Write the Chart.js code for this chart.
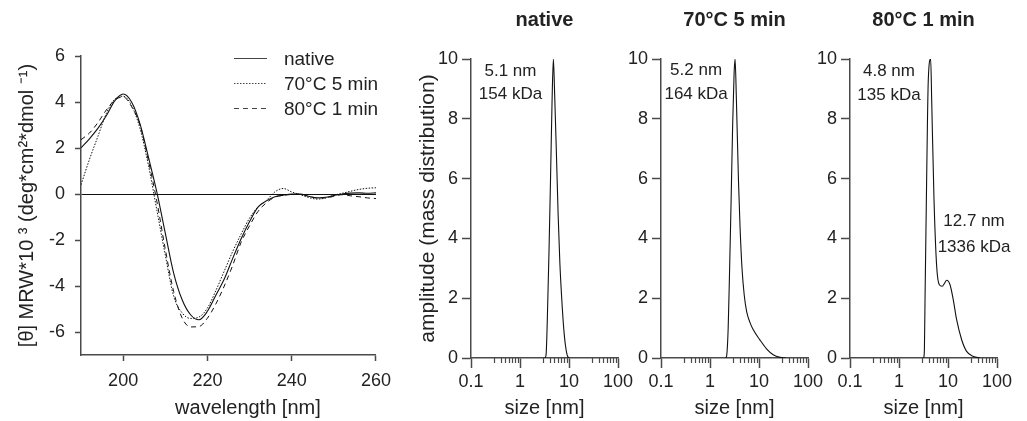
<!DOCTYPE html>
<html>
<head>
<meta charset="utf-8">
<script src="https://cdn.jsdelivr.net/npm/chart.js@4.4.0/dist/chart.umd.min.js"></script>
<style>
  html, body { margin: 0; padding: 0; background: #fff; }
  #wrap { position: relative; width: 1027px; height: 421px; overflow: hidden; }
  #wrap canvas { position: absolute; top: 0; }
</style>
</head>
<body>
<div id="wrap">
  <canvas id="cd" width="400" height="421" style="left:0px"></canvas>
  <canvas id="dls1" width="250" height="421" style="left:390px"></canvas>
  <canvas id="dls2" width="210" height="421" style="left:620px"></canvas>
  <canvas id="dls3" width="218" height="421" style="left:809px"></canvas>
</div>
<script>
// CD spectra
const wavelengths = [190, 192, 194, 196, 198, 200, 202, 204, 206, 208, 210, 212, 214, 216, 218, 220, 222, 224,
                     226, 228, 230, 232, 234, 236, 238, 240, 242, 244, 246, 248, 250, 252, 254, 256, 258, 260];
const cdNative = [2.0, 2.4, 2.85, 3.4, 4.05, 4.35, 4.0, 3.05, 1.6, 0.08, -1.7, -3.45, -4.6, -5.25, -5.47, -5.1, -4.4, -3.7,
                  -2.8, -1.95, -1.2, -0.57, -0.3, -0.12, -0.05, 0.0, 0.0, -0.1, -0.17, -0.14, -0.07, 0.0, 0.04, 0.05, 0.03, 0.05];
const cd70 = [0.4, 1.5, 2.5, 3.5, 4.12, 4.25, 3.85, 2.85, 1.25, -0.7, -2.65, -4.45, -5.17, -5.41, -5.35, -4.96, -4.2, -3.35,
              -2.5, -1.74, -1.05, -0.56, -0.28, 0.09, 0.24, 0.09, -0.03, -0.15, -0.22, -0.18, -0.05, 0.03, 0.12, 0.2, 0.25, 0.27];
const cd80 = [2.36, 2.65, 3.1, 3.65, 4.08, 4.22, 3.8, 3.0, 1.45, -0.32, -2.4, -4.25, -5.39, -5.78, -5.76, -5.4, -4.78, -4.0,
              -3.1, -2.1, -1.38, -0.76, -0.38, -0.14, -0.06, -0.02, 0.0, -0.1, -0.17, -0.17, -0.1, -0.03, -0.08, -0.12, -0.17, -0.2];
const cdLabels = ['native', '70°C 5 min', '80°C 1 min'];
const wavelengthTicks = [200, 220, 240, 260];
const cdTicks = [-6, -4, -2, 0, 2, 4, 6];

// DLS mass distributions
const dlsNativeSize = [3.2, 3.4, 3.6, 3.9, 4.2, 4.5, 4.8, 5.1, 5.5, 6.0, 6.5, 7.1, 7.8, 8.5, 9.4, 10.2];
const dlsNativeAmp  = [0, 0.1, 1.2, 3.5, 6.0, 8.5, 10, 8.8, 7.0, 4.8, 3.2, 2.0, 1.0, 0.4, 0.05, 0];
const dls70Size = [2.1, 2.2, 2.35, 2.5, 2.7, 2.9, 3.1, 3.25, 3.45, 3.8, 4.1, 4.5, 5.0, 5.6, 6.5, 7.6, 10.5, 14.4, 19.5, 27, 35];
const dls70Amp  = [0, 0.1, 1.0, 2.8, 5.3, 7.8, 9.5, 10, 8.7, 6.0, 4.4, 3.0, 2.1, 1.55, 1.2, 0.95, 0.6, 0.3, 0.11, 0.02, 0];
const dls80Size = [3.2, 3.3, 3.4, 3.6, 3.8, 3.96, 4.43, 4.65, 5.18, 5.87, 6.65, 7.6, 8.5, 9.4, 11, 12.8, 15, 19, 24, 33, 45];
const dls80Amp  = [0, 0.3, 2.0, 5.0, 7.8, 9.3, 10, 8.6, 5.3, 3.07, 2.45, 2.4, 2.5, 2.6, 2.45, 1.95, 1.28, 0.61, 0.22, 0.05, 0];
const dlsTitles = ['native', '70°C 5 min', '80°C 1 min'];
const sizeTicks = [0.1, 1, 10, 100];
const sizeMinorTicks = [0.3, 0.4, 0.5, 0.6, 0.7, 0.8, 0.9, 3, 4, 5, 6, 7, 8, 9, 30, 40, 50, 60, 70, 80, 90];
const ampTicks = [0, 2, 4, 6, 8, 10];

const AXIS = '#4a4a4a';
const LINE = '#111';
const FONT = '"Liberation Sans", Arial, sans-serif';
Chart.defaults.font.family = FONT;
Chart.defaults.color = '#222';
Chart.defaults.animation = false;

const toPoints = (xs, ys) => xs.map((v, i) => ({ x: v, y: ys[i] }));

// legend drawn inside the CD plot, one row per dataset
const cdLegend = {
    id: 'cdLegend',
    afterDatasetsDraw(chart) {
        const { ctx, chartArea } = chart;
        ctx.save();
        ctx.font = '19px ' + FONT;
        ctx.textBaseline = 'middle';
        ctx.fillStyle = '#222';
        chart.data.datasets.forEach((d, i) => {
            const y = chartArea.top + 2.5 + i * 25;
            ctx.strokeStyle = '#444';
            ctx.lineWidth = d.borderWidth;
            ctx.setLineDash(d.borderDash || []);
            ctx.beginPath();
            ctx.moveTo(chartArea.right - 142, y);
            ctx.lineTo(chartArea.right - 109, y);
            ctx.stroke();
            ctx.setLineDash([]);
            ctx.fillText(d.label, chartArea.right - 92, y + 1);
        });
        ctx.restore();
    }
};

// size / mass annotations placed in data coordinates
const notesPlugin = {
    id: 'notes',
    afterDatasetsDraw(chart, args, opts) {
        const { ctx, scales } = chart;
        ctx.save();
        ctx.font = '17px ' + FONT;
        ctx.fillStyle = '#222';
        ctx.textAlign = 'center';
        ctx.textBaseline = 'middle';
        (opts.items || []).forEach(n => {
            ctx.fillText(n.text, scales.x.getPixelForValue(n.x), scales.y.getPixelForValue(n.y));
        });
        ctx.restore();
    }
};

// short minor ticks on the log axis
const minorTicks = {
    id: 'minorTicks',
    afterDraw(chart) {
        const { ctx, scales } = chart;
        ctx.save();
        ctx.strokeStyle = AXIS;
        ctx.lineWidth = 1.2;
        sizeMinorTicks.forEach(v => {
            const px = Math.round(scales.x.getPixelForValue(v)) + 0.5;
            ctx.beginPath();
            ctx.moveTo(px, scales.x.top);
            ctx.lineTo(px, scales.x.top + 5);
            ctx.stroke();
        });
        ctx.restore();
    }
};

new Chart(document.getElementById('cd'), {
    type: 'line',
    data: {
        datasets: [
            { label: cdLabels[0], data: toPoints(wavelengths, cdNative), borderColor: LINE, borderWidth: 1.1 },
            { label: cdLabels[1], data: toPoints(wavelengths, cd70), borderColor: LINE, borderWidth: 1, borderDash: [1.5, 1.5] },
            { label: cdLabels[2], data: toPoints(wavelengths, cd80), borderColor: LINE, borderWidth: 1, borderDash: [5, 4] }
        ]
    },
    options: {
        responsive: false,
        layout: { padding: { top: 56, right: 24, left: 0, bottom: 0 } },
        elements: { point: { radius: 0 }, line: { cubicInterpolationMode: 'monotone' } },
        plugins: { legend: { display: false }, tooltip: { enabled: false } },
        scales: {
            x: {
                type: 'linear', min: 190, max: 260,
                afterBuildTicks: s => { s.ticks = wavelengthTicks.map(v => ({ value: v })); },
                afterFit: s => { s.height = 66; },
                border: { color: AXIS, width: 1.5 },
                grid: { drawOnChartArea: false, tickLength: 6, tickColor: AXIS, tickWidth: 1.5 },
                ticks: { font: { size: 18 }, padding: 9, maxRotation: 0, autoSkip: false },
                title: { display: true, text: '       wavelength [nm]', font: { size: 20 }, padding: { top: 0, bottom: 1 } }
            },
            y: {
                min: -7, max: 6,
                afterBuildTicks: s => { s.ticks = cdTicks.map(v => ({ value: v })); },
                afterFit: s => { s.width = 81; },
                border: { color: AXIS, width: 1.5 },
                grid: {
                    color: c => (c.tick && c.tick.value === 0 ? '#111' : 'rgba(0,0,0,0)'),
                    lineWidth: 1, tickLength: 6, tickColor: AXIS, tickWidth: 1.5
                },
                ticks: { font: { size: 18 }, padding: 10 },
                title: { display: true, text: '[θ] MRW*10 ³ (deg*cm²*dmol ⁻¹)', font: { size: 20 }, padding: { top: 15, bottom: 0 } }
            }
        }
    },
    plugins: [cdLegend]
});

function dlsChart(id, sizes, amps, title, notes, yWidth, rightPad, showYTitle) {
    return new Chart(document.getElementById(id), {
        type: 'line',
        data: {
            datasets: [{ data: toPoints(sizes, amps), borderColor: LINE, borderWidth: 1.1 }]
        },
        options: {
            responsive: false,
            layout: { padding: { top: 0, right: rightPad, left: 0, bottom: 0 } },
            elements: { point: { radius: 0 }, line: { cubicInterpolationMode: 'monotone' } },
            plugins: {
                legend: { display: false },
                tooltip: { enabled: false },
                title: {
                    display: true, text: title, fullSize: false, color: '#222',
                    font: { size: 20, weight: 'bold' }, padding: { top: 8, bottom: 27 }
                },
                notes: { items: notes }
            },
            scales: {
                x: {
                    type: 'logarithmic', min: 0.1, max: 100,
                    afterBuildTicks: s => { s.ticks = sizeTicks.map(v => ({ value: v })); },
                    afterFit: s => { s.height = 63; },
                    border: { color: AXIS, width: 1.5 },
                    grid: { drawOnChartArea: false, tickLength: 10, tickColor: AXIS, tickWidth: 1.5 },
                    ticks: { font: { size: 18 }, padding: 3, maxRotation: 0, autoSkip: false, callback: v => String(v) },
                    title: { display: true, text: 'size [nm]', font: { size: 20 }, padding: { top: 0, bottom: 1 } }
                },
                y: {
                    min: 0, max: 10,
                    afterBuildTicks: s => { s.ticks = ampTicks.map(v => ({ value: v })); },
                    afterFit: s => { s.width = yWidth; },
                    border: { color: AXIS, width: 1.5 },
                    grid: { drawOnChartArea: false, tickLength: 9, tickColor: AXIS, tickWidth: 1.5 },
                    ticks: { font: { size: 18 }, padding: 4 },
                    title: { display: showYTitle, text: 'amplitude (mass distribution)', font: { size: 21 }, padding: { top: 26, bottom: 0 } }
                }
            }
        },
        plugins: [notesPlugin, minorTicks]
    });
}

dlsChart('dls1', dlsNativeSize, dlsNativeAmp, dlsTitles[0],
    [{ x: 0.64, y: 9.6, text: '5.1 nm' }, { x: 0.64, y: 8.82, text: '154 kDa' }], 81, 22, true);
dlsChart('dls2', dls70Size, dls70Amp, dlsTitles[1],
    [{ x: 0.52, y: 9.63, text: '5.2 nm' }, { x: 0.52, y: 8.82, text: '164 kDa' }], 41, 22, false);
dlsChart('dls3', dls80Size, dls80Amp, dlsTitles[2],
    [{ x: 0.625, y: 9.6, text: '4.8 nm' }, { x: 0.625, y: 8.8, text: '135 kDa' },
     { x: 34, y: 4.58, text: '12.7 nm' }, { x: 34, y: 3.7, text: '1336 kDa' }], 41, 30, false);
</script>
</body>
</html>
